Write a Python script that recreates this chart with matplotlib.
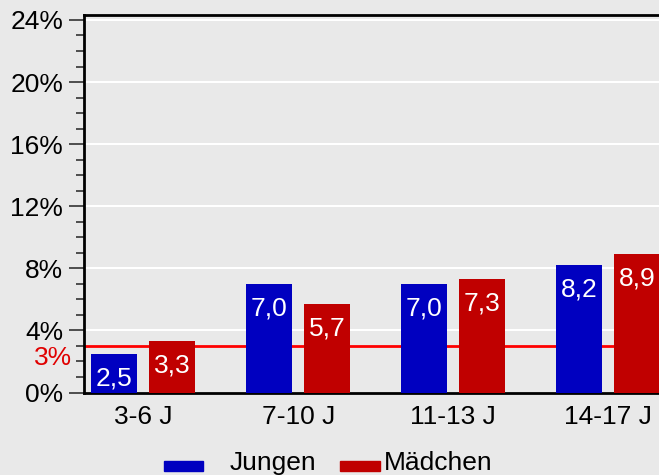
import matplotlib
matplotlib.use("Agg")
import matplotlib.pyplot as plt
from matplotlib.patches import Rectangle
import numpy as np

plt.rcParams['font.family'] = ['Liberation Sans', 'DejaVu Sans']

categories = ["3-6 J", "7-10 J", "11-13 J", "14-17 J"]
series_names = ["Jungen", "Mädchen"]
jungen = [2.5, 7.0, 7.0, 8.2]
maedchen = [3.3, 5.7, 7.3, 8.9]
ref_value = 3
ref_label = "3%"
yticks = [0, 4, 8, 12, 16, 20, 24]

blue = "#0000c0"
red = "#c00000"
bg = "#e9e9e9"
FS = 19

W, H = 659, 475
fig = plt.figure(figsize=(W / 100, H / 100), dpi=100, facecolor=bg)
ax = fig.add_axes([84 / W, (H - 392.5) / H, (678 - 84) / W, 377.5 / H])
ax.set_facecolor(bg)

x = np.arange(len(categories))
bw = 0.297
off = 0.187
b1 = ax.bar(x - off, jungen, bw, color=blue, zorder=3)
b2 = ax.bar(x + off, maedchen, bw, color=red, zorder=3)

ax.set_xlim(-0.381, 3.45)
ax.set_ylim(0, 24.32)

ax.axhline(ref_value, color="#ff0000", lw=2, zorder=2)
ax.text(-0.02, ref_value - 0.75, ref_label, color="#e00000", fontsize=FS,
        ha="right", va="center", transform=ax.get_yaxis_transform(), clip_on=False)

for bars, vals in ((b1, jungen), (b2, maedchen)):
    for rect, v in zip(bars, vals):
        ax.annotate(f"{v:.1f}".replace(".", ","),
                    (rect.get_x() + rect.get_width() / 2, v),
                    xytext=(0, -17.5), textcoords="offset points",
                    ha="center", va="center", color="white", fontsize=FS, zorder=4)

ax.set_yticks(yticks)
ax.set_yticklabels([f"{t}%" for t in yticks], fontsize=FS)
ax.set_yticks(np.arange(0, 25, 1), minor=True)
ax.tick_params(axis="y", which="major", length=11, width=1.2, pad=4, color="#333333")
ax.tick_params(axis="y", which="minor", length=6, width=1.2, color="#333333")
ax.set_xticks(x)
ax.set_xticklabels(categories, fontsize=FS)
ax.tick_params(axis="x", length=0, pad=9)

ax.grid(axis="y", which="major", color="white", lw=1.5, zorder=1)
ax.set_axisbelow(True)

for s in ("left", "top", "bottom"):
    ax.spines[s].set_color("black")
    ax.spines[s].set_linewidth(2)
ax.spines["right"].set_visible(False)

# legend
for (x0, x1), col, name, tx in (((164, 203), blue, series_names[0], 230),
                                ((340, 380), red, series_names[1], 384)):
    fig.patches.append(Rectangle((x0 / W, (H - 471) / H), (x1 - x0) / W, 10 / H,
                                 transform=fig.transFigure, color=col))
    fig.text(tx / W, (H - 463) / H, name, fontsize=FS, ha="left", va="center")

fig.savefig("out.png", dpi=100, facecolor=bg)
